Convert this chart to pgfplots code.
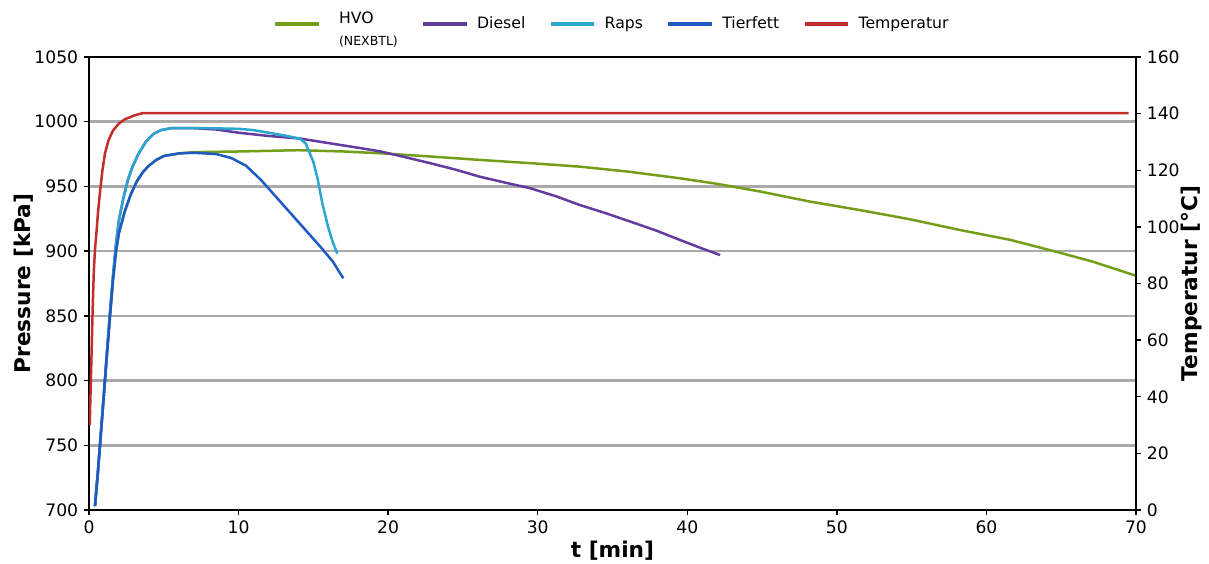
\documentclass[border=0pt]{standalone}
\usepackage{pgfplots}
\pgfplotsset{compat=1.18}
\usepackage{fontspec}
\setmainfont{DejaVu Sans}

\definecolor{hvo}{RGB}{114,158,26}
\definecolor{diesel}{RGB}{100,60,160}
\definecolor{raps}{RGB}{42,166,208}
\definecolor{tierfett}{RGB}{30,90,196}
\definecolor{temp}{RGB}{196,46,42}
\definecolor{gridc}{RGB}{170,170,170}

\pgfplotsset{
  common/.style={
    at={(0,0)}, anchor=south west,
    scale only axis, width=628.2pt, height=271.8pt,
    xmin=0, xmax=70,
    tick align=outside, major tick length=3pt,
    axis line style={line width=0.8pt},
    every tick/.style={black, line width=0.8pt},
    tick label style={font=\fontsize{10.3}{12}\selectfont},
    /pgf/number format/assume math mode=true,
    /pgf/number format/1000 sep={},
    label style={font=\bfseries\fontsize{13}{15}\selectfont},
  },
}

\begin{document}
\begin{tikzpicture}
\useasboundingbox (-53.4pt,-31.8pt) rectangle (672pt,306pt);

\begin{axis}[common,
  ymin=700, ymax=1050,
  ytick={700,750,...,1050},
  xtick={0,10,...,70},
  tick pos=left,
  ymajorgrids,
  major grid style={gridc, line width=1.6pt},
  xlabel={t [min]},
  xlabel style={yshift=2.6pt},
  ylabel={Pressure [kPa]},
  ylabel style={yshift=-6pt},
  legend columns=5,
  legend cell align=left,
  legend style={draw=none, fill=none, at={(0.5,1)}, anchor=center, yshift=20pt,
    font=\fontsize{9.4}{11}\selectfont,
    /tikz/every even column/.append style={column sep=12pt},
    /tikz/every odd column/.append style={column sep=3pt}},
  legend image code/.code={\draw[#1, line width=2.6pt] (0pt,0pt) -- (26pt,0pt);},
]
% HVO (NEXBTL)
\addplot[hvo, line width=1.5pt] coordinates {
(0.4,703) (0.6,730) (0.8,760) (1.0,790) (1.2,820) (1.4,849) (1.6,877) (1.8,899)
(2.0,914) (2.4,931) (2.8,944) (3.2,954) (3.6,961) (4.0,966) (4.5,970.5) (5,973.5)
(6,975.5) (7,976.5) (10,977) (14,978) (17,977) (19.5,975.6) (23,973) (26.1,970.5)
(29.5,968) (32.8,965.3) (36,961.5) (39.5,956.3) (42,952) (44.9,946) (48.2,938.3)
(51.5,931.8) (54.9,924.6) (58.2,916.4) (61.6,908.7) (64.9,898.8) (67.1,891.9) (70,881)};
\addlegendentry{\hspace*{6pt}\begin{tabular}{@{}l@{}}HVO\\[2pt]{\fontsize{7.5}{9}\selectfont(NEXBTL)}\end{tabular}}
% Diesel
\addplot[diesel, line width=1.5pt] coordinates {
(0.4,703) (0.6,730) (0.8,760) (1.0,790) (1.2,822) (1.4,852) (1.6,880) (1.8,905)
(2.0,924) (2.3,941) (2.6,955) (2.9,965) (3.3,975) (3.8,984.5) (4.3,990.5) (4.8,993.5)
(5.5,995) (7,995) (8.5,994) (10,991.5) (12,989) (14.1,987) (16,983.5) (18.1,979.7)
(19.5,977) (21,973) (22.8,968) (24.5,963) (26.1,957.6) (27.8,953) (29.5,948.6)
(31.2,942.5) (32.8,935.7) (34.5,929.5) (36.2,922.8) (37.9,916) (39.5,908.7)
(41,902) (42.2,897)};
\addlegendentry{Diesel}
% Raps
\addplot[raps, line width=1.5pt] coordinates {
(0.4,703) (0.6,730) (0.8,760) (1.0,790) (1.2,822) (1.4,852) (1.6,880) (1.8,905)
(2.0,924) (2.3,941) (2.6,955) (2.9,965) (3.3,975) (3.8,984.5) (4.3,990.5) (4.8,993.5)
(5.5,995) (8,995) (10,994.5) (11,993.5) (12,991.5) (13,989.5) (14.1,987)
(14.5,983) (15.0,969) (15.3,955) (15.6,937) (16.0,918) (16.3,907) (16.6,898)};
\addlegendentry{Raps}
% Tierfett
\addplot[tierfett, line width=1.5pt] coordinates {
(0.4,703) (0.6,730) (0.8,760) (1.0,790) (1.2,820) (1.4,849) (1.6,877) (1.8,899)
(2.0,914) (2.4,931) (2.8,944) (3.2,954) (3.6,961) (4.0,966) (4.5,970.5) (5,973.5)
(6,975.5) (7,976) (8.5,975) (9.5,972) (10.5,966) (11.5,955) (12.5,942)
(13.5,929) (14.5,916) (15.5,903) (16.3,892) (17,879)};
\addlegendentry{Tierfett}
\addlegendimage{temp}
\addlegendentry{Temperatur}
\end{axis}

\begin{axis}[common,
  ymin=0, ymax=160,
  ytick={0,20,...,160},
  hide x axis,
  axis y line*=right,
  ylabel={Temperatur [°C]},
  ylabel style={yshift=6pt},
]
\addplot[temp, line width=1.5pt] coordinates {
(0.05,30) (0.12,45) (0.18,57) (0.25,72) (0.32,84) (0.4,92) (0.5,98) (0.6,105)
(0.75,113) (0.9,120) (1.07,126) (1.3,130.5) (1.6,134) (2.0,136.5) (2.4,138)
(3.0,139.3) (3.6,140.2) (69.5,140.2)};
\end{axis}
\end{tikzpicture}
\end{document}
